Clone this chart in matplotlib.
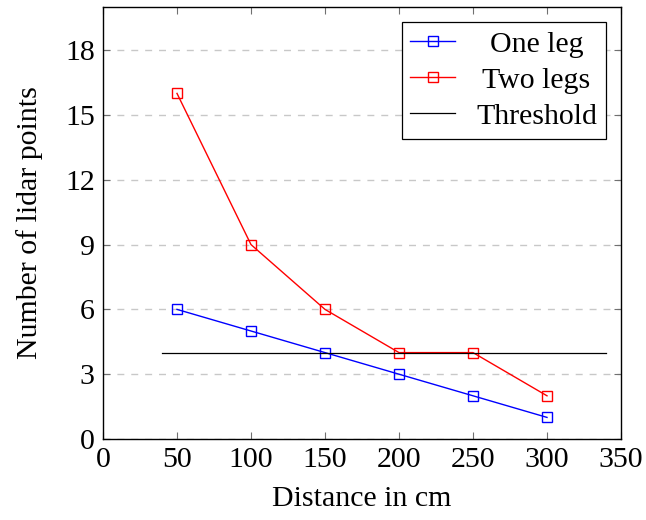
import matplotlib
matplotlib.use("Agg")
import matplotlib.pyplot as plt

distance = [50, 100, 150, 200, 250, 300]
one_leg = [6, 5, 4, 3, 2, 1]
two_legs = [16, 9, 6, 4, 4, 2]
threshold_x = [40, 340]
threshold_y = [4, 4]
xticks = [0, 50, 100, 150, 200, 250, 300, 350]
yticks = [0, 3, 6, 9, 12, 15, 18]

plt.rcParams['font.family'] = ['Liberation Serif', 'DejaVu Serif']
plt.rcParams['font.size'] = 21.5

fig = plt.figure(figsize=(6.46, 5.2), dpi=100)
ax = fig.add_axes([103/646, 1-439/520, (621-103)/646, (439-7)/520])

ax.plot(distance, one_leg, color='blue', lw=1.0, marker='s', ms=7.5,
        mfc='none', mec='blue', mew=1.0, label='One leg', zorder=3)
ax.plot(distance, two_legs, color='red', lw=1.0, marker='s', ms=7.5,
        mfc='none', mec='red', mew=1.0, label='Two legs', zorder=3)
ax.plot(threshold_x, threshold_y, color='black', lw=0.9, label='Threshold', zorder=3)

ax.set_xlim(0, 350)
ax.set_ylim(0, 20)
ax.set_xticks(xticks)
ax.set_yticks(yticks)
ax.yaxis.grid(True, linestyle=(0, (5, 5)), color='#c8c8c8', lw=1.0)
ax.set_axisbelow(True)
ax.tick_params(direction='in', top=True, right=True, length=5, width=0.8,
               color='#707070')
ax.tick_params(axis='y', pad=6)
ax.tick_params(axis='x', pad=6)
for s in ax.spines.values():
    s.set_linewidth(1.0)
ax.set_xlabel('Distance in cm', labelpad=9)
ax.set_ylabel('Number of lidar points', labelpad=16)

leg = ax.legend(loc='upper right', bbox_to_anchor=(606/646, 1-22/520),
                bbox_transform=fig.transFigure, fancybox=False,
                edgecolor='black', framealpha=1, borderpad=0.3,
                borderaxespad=0, handlelength=1.5, handletextpad=0.7,
                labelspacing=0.3)
leg.get_frame().set_linewidth(0.9)

# center legend texts (pgfplots style)
renderer = fig.canvas.get_renderer()
texts = leg.get_texts()
widths = [t.get_window_extent(renderer).width * 72 / fig.dpi for t in texts]
maxw = max(widths)
base = leg.handletextpad * leg._fontsize
column = leg._legend_handle_box.get_children()[0]
for item, w in zip(column.get_children(), widths):
    item.sep = base + (maxw - w) / 2

fig.savefig('out.png', dpi=100)
